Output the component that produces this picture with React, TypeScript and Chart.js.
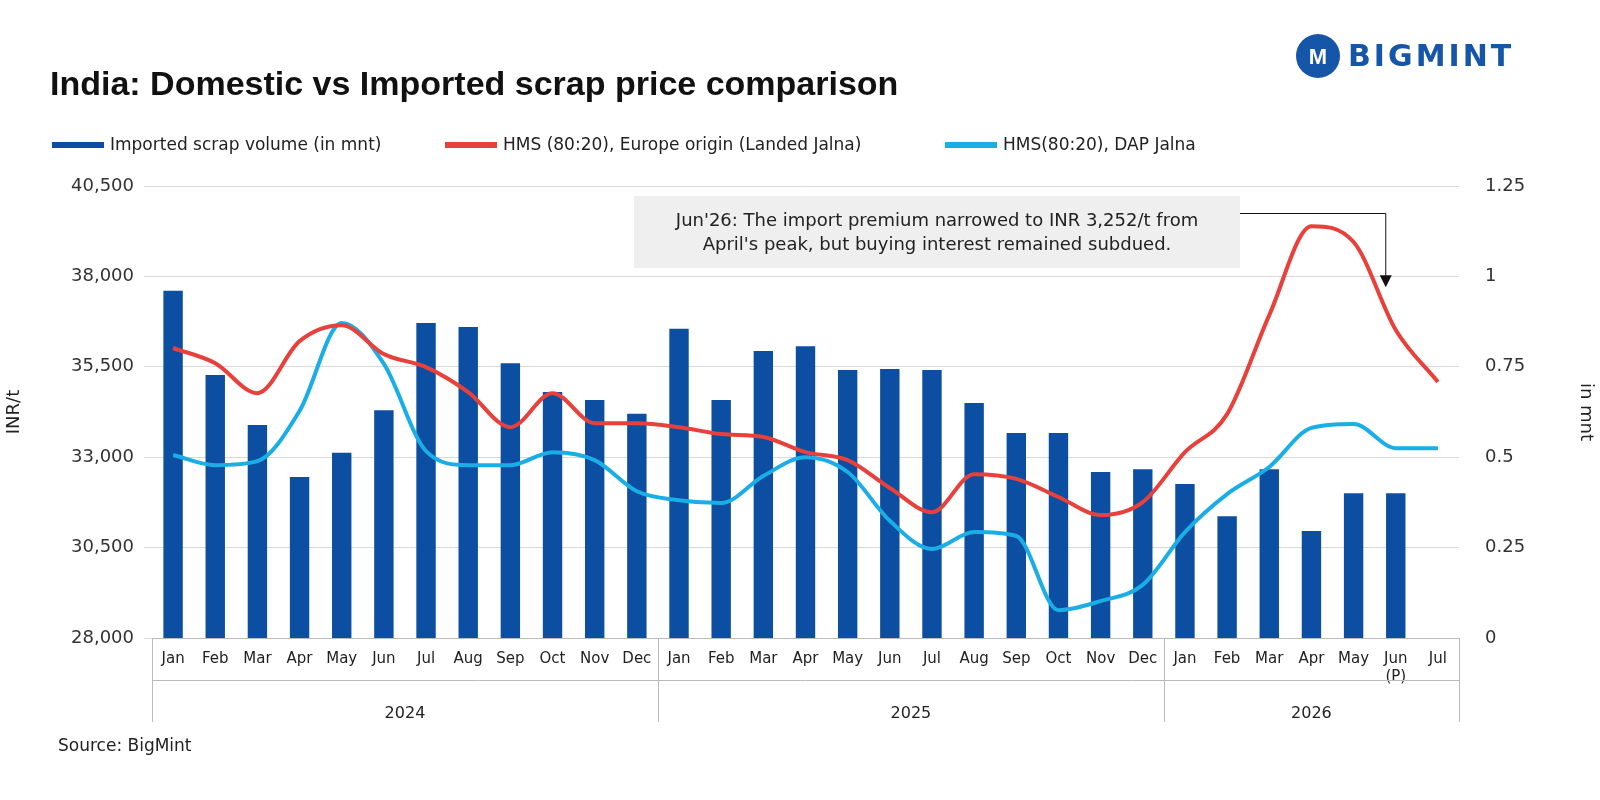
import React, { useEffect, useRef } from "react";
import { Chart, registerables } from "chart.js";
Chart.register(...registerables);

const months = ["Jan","Feb","Mar","Apr","May","Jun","Jul","Aug","Sep","Oct","Nov","Dec","Jan","Feb","Mar","Apr","May","Jun","Jul","Aug","Sep","Oct","Nov","Dec","Jan","Feb","Mar","Apr","May","Jun (P)","Jul"];
const years = [{ label: "2024", n: 12 }, { label: "2025", n: 12 }, { label: "2026", n: 7 }];
const importVolume = [0.96,0.727,0.589,0.445,0.512,0.63,0.871,0.86,0.76,0.68,0.658,0.62,0.855,0.658,0.794,0.807,0.741,0.744,0.741,0.65,0.567,0.567,0.459,0.467,0.426,0.337,0.467,0.296,0.40,0.40,null];
const hmsEurope = [36020,35600,34770,36210,36650,35850,35490,34800,33830,34770,33940,33940,33830,33640,33560,33140,32920,32150,31480,32530,32400,31900,31400,31760,33140,34190,36930,39390,38950,36520,35080];
const hmsDap = [33060,32780,32890,34280,36710,35580,33170,32780,32780,33140,32920,32060,31810,31730,32480,33000,32590,31240,30460,30930,30820,28770,29020,29470,30930,31980,32730,33810,33920,33250,33250];

const BAR = "#0B4EA2", RED = "#E8403A", CYAN = "#1BAEE6";
const FONT = "'DejaVu Sans', sans-serif";
const TFONT = "'Liberation Sans', Arial, sans-serif";

const overlay = {
  id: "overlay",
  afterDraw(chart: any) {
    const { ctx, chartArea: a, scales } = chart;
    const x = scales.x, yL = scales.y;
    ctx.save();
    ctx.fillStyle = "#111";
    ctx.font = `bold 34px ${TFONT}`;
    ctx.textBaseline = "middle";
    ctx.fillText("India: Domestic vs Imported scrap price comparison", 50, 86);
    // logo
    ctx.fillStyle = "#1556A8";
    ctx.beginPath(); ctx.arc(1318, 56, 22, 0, Math.PI * 2); ctx.fill();
    ctx.fillStyle = "#fff";
    ctx.font = `bold 22px ${TFONT}`; ctx.textAlign = "center";
    ctx.fillText("M", 1318, 58);
    ctx.fillStyle = "#1556A8"; ctx.textAlign = "left";
    ctx.font = `bold 30px ${FONT}`;
    (ctx as any).letterSpacing = "3px";
    ctx.fillText("BIGMINT", 1348, 58);
    (ctx as any).letterSpacing = "0px";
    // legend
    const items = [[BAR, "Imported scrap volume (in mnt)", 52], [RED, "HMS (80:20), Europe origin (Landed Jalna)", 445], [CYAN, "HMS(80:20), DAP Jalna", 945]];
    ctx.font = `17px ${FONT}`;
    items.forEach(([c, t, lx]: any) => {
      ctx.strokeStyle = c; ctx.lineWidth = 6;
      ctx.beginPath(); ctx.moveTo(lx, 145); ctx.lineTo(lx + 52, 145); ctx.stroke();
      ctx.fillStyle = "#222"; ctx.fillText(t, lx + 58, 146);
    });
    // x axis groups
    ctx.strokeStyle = "#bbb"; ctx.lineWidth = 1;
    const step = (x.getPixelForValue(1) - x.getPixelForValue(0));
    let idx = 0;
    const edges: number[] = [a.left];
    ctx.fillStyle = "#222"; ctx.font = `16px ${FONT}`; ctx.textAlign = "center";
    years.forEach((g) => {
      const s = x.getPixelForValue(idx) - step / 2;
      const e = x.getPixelForValue(idx + g.n - 1) + step / 2;
      edges.push(e);
      ctx.fillText(g.label, (s + e) / 2, 714);
      idx += g.n;
    });
    edges.forEach((ex) => { ctx.beginPath(); ctx.moveTo(Math.round(ex) + 0.5, a.bottom); ctx.lineTo(Math.round(ex) + 0.5, 722); ctx.stroke(); });
    ctx.beginPath(); ctx.moveTo(a.left, 680.5); ctx.lineTo(a.right, 680.5); ctx.stroke();
    ctx.textAlign = "left"; ctx.font = `17px ${FONT}`;
    ctx.fillText("Source: BigMint", 58, 747);
    // annotation
    ctx.fillStyle = "#EFEFEF";
    ctx.fillRect(634, 196, 606, 72);
    ctx.fillStyle = "#222"; ctx.textAlign = "center"; ctx.font = `18px ${FONT}`;
    ctx.fillText("Jun'26: The import premium narrowed to INR 3,252/t from", 937, 221);
    ctx.fillText("April's peak, but buying interest remained subdued.", 937, 245);
    const ax = x.getPixelForValue(29) - 10;
    const ay = yL.getPixelForValue(37700);
    ctx.strokeStyle = "#111"; ctx.lineWidth = 1;
    ctx.beginPath(); ctx.moveTo(1240, 213.5); ctx.lineTo(ax, 213.5); ctx.lineTo(ax, ay - 10); ctx.stroke();
    ctx.fillStyle = "#111";
    ctx.beginPath(); ctx.moveTo(ax - 6, ay - 12); ctx.lineTo(ax + 6, ay - 12); ctx.lineTo(ax, ay); ctx.closePath(); ctx.fill();
    ctx.restore();
  },
};

export default function App() {
  const ref = useRef<HTMLCanvasElement>(null);
  useEffect(() => {
    document.body.style.margin = "0";
    const labels = months.map((m) => (m === "Jun (P)" ? ["Jun", "(P)"] : m));
    const chart = new Chart(ref.current!, {
      type: "bar",
      data: {
        labels,
        datasets: [
          { type: "line", label: "red", data: hmsEurope, yAxisID: "y", borderColor: RED, borderWidth: 4, pointRadius: 0, cubicInterpolationMode: "monotone", order: 1 } as any,
          { type: "line", label: "cyan", data: hmsDap, yAxisID: "y", borderColor: CYAN, borderWidth: 4, pointRadius: 0, cubicInterpolationMode: "monotone", order: 2 } as any,
          { type: "bar", label: "vol", data: importVolume, yAxisID: "y1", backgroundColor: BAR, barPercentage: 0.46, categoryPercentage: 1, order: 3 },
        ],
      },
      options: {
        animation: false, responsive: false,
        layout: { padding: { top: 186, bottom: 78, left: 0, right: 0 } },
        plugins: { legend: { display: false }, tooltip: { enabled: false } },
        scales: {
          x: {
            grid: { display: false }, border: { color: "#bbb" },
            ticks: { color: "#222", font: { size: 15, family: FONT }, maxRotation: 0, autoSkip: false, padding: 4 },
            afterFit: (s: any) => { s.height = 84; },
          },
          y: {
            position: "left", min: 28000, max: 40500,
            afterBuildTicks: (s: any) => { s.ticks = [28000, 30500, 33000, 35500, 38000, 40500].map((v) => ({ value: v })); },
            ticks: { color: "#333", font: { size: 18, family: FONT }, padding: 10, callback: (v: any) => Number(v).toLocaleString("en-US") },
            grid: { color: "#d9d9d9" }, border: { display: false },
            title: { display: true, text: "INR/t", color: "#222", font: { size: 18, family: FONT } },
            afterFit: (s: any) => { s.width = 152; },
          },
          y1: {
            position: "right", min: 0, max: 1.25,
            afterBuildTicks: (s: any) => { s.ticks = [0, 0.25, 0.5, 0.75, 1, 1.25].map((v) => ({ value: v })); },
            ticks: { color: "#333", font: { size: 18, family: FONT }, padding: 18, callback: (v: any) => String(v) },
            grid: { display: false }, border: { display: false },
            title: { display: true, text: "in mnt", color: "#222", font: { size: 18, family: FONT } },
            afterFit: (s: any) => { s.width = 141; },
          },
        },
      },
      plugins: [overlay],
    });
    return () => chart.destroy();
  }, []);
  return <canvas ref={ref} width={1600} height={800} style={{ display: "block" }} />;
}
